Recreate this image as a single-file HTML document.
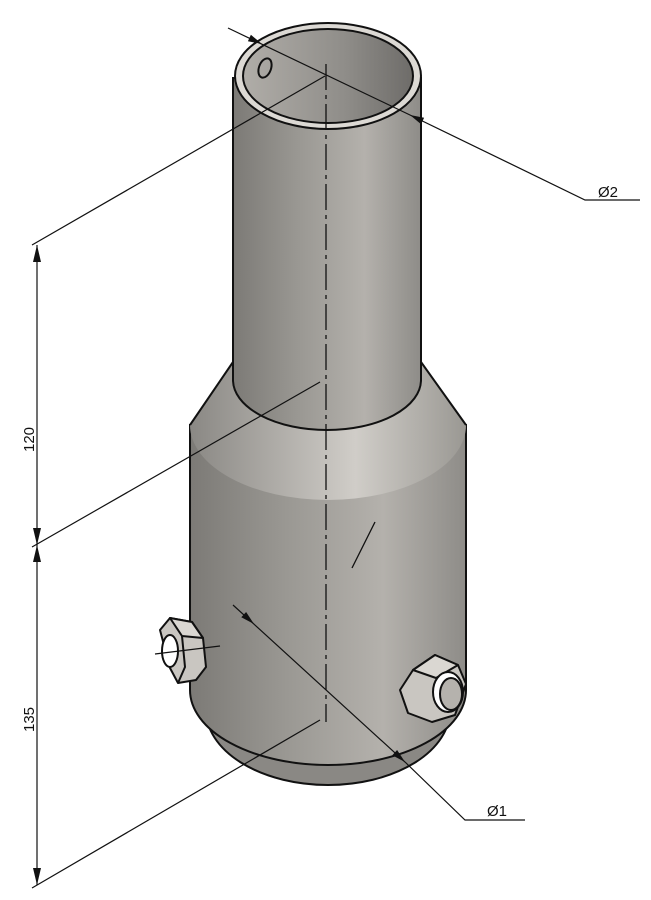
<!DOCTYPE html><html><head><style>body{margin:0;background:#fff}svg{display:block}</style></head><body>
<svg width="651" height="900" viewBox="0 0 651 900" xmlns="http://www.w3.org/2000/svg" font-family="Liberation Sans, sans-serif">
<defs>
<linearGradient id="g" x1="0" x2="1"><stop offset="0" stop-color="#7c7a76"/><stop offset="0.35" stop-color="#9a9893"/><stop offset="0.7" stop-color="#b4b1ac"/><stop offset="1" stop-color="#8e8c88"/></linearGradient>
<linearGradient id="gc" x1="0" x2="1"><stop offset="0" stop-color="#8a8884"/><stop offset="0.6" stop-color="#d0cdc8"/><stop offset="1" stop-color="#9a9893"/></linearGradient>
<linearGradient id="gi" x1="0" x2="1"><stop offset="0" stop-color="#b0ada8"/><stop offset="0.6" stop-color="#8f8d89"/><stop offset="1" stop-color="#6e6c69"/></linearGradient>
</defs>
<g stroke="#111" stroke-width="2">
<ellipse cx="328" cy="710" rx="122" ry="75" fill="#8a8884"/>
<path d="M190 425 L190 690 A138 75 0 0 0 466 690 L466 425Z" fill="url(#g)"/>
<path d="M190 425 A138 75 0 0 0 466 425 L421 362 L233 362 L190 425Z" fill="url(#gc)" stroke="none"/>
<path d="M190 425 L233 362 M466 425 L421 362" fill="none"/>
<path d="M233 78 L233 380 A94 50 0 0 0 421 380 L421 78Z" fill="url(#g)"/>
<ellipse cx="328" cy="76" rx="93" ry="53" fill="#dcd9d4"/>
<ellipse cx="328" cy="76" rx="85" ry="47" fill="url(#gi)"/>
</g>
<ellipse cx="265" cy="68" rx="6" ry="10" transform="rotate(20 265 68)" fill="none" stroke="#111" stroke-width="2"/>
<g stroke="#111" stroke-width="2" stroke-linejoin="round">
<path d="M160 630 L170 618 L192 622 L203 638 L206 667 L196 680 L178 683 L170 668Z" fill="#c9c6c1"/>
<path d="M170 618 L192 622 L203 638 L182 636Z" fill="#dad7d2"/>
<path d="M182 636 L185 667 L178 683" fill="none"/>
<ellipse cx="170" cy="651" rx="8" ry="16" fill="#fff"/>
<path d="M413 670 L435 655 L458 665 L466 684 L455 715 L432 722 L408 713 L400 690Z" fill="#c9c6c1"/>
<path d="M413 670 L435 655 L458 665 L436 678Z" fill="#dad7d2"/>
<ellipse cx="448" cy="692" rx="15" ry="20" fill="#fff"/>
<ellipse cx="451" cy="694" rx="11" ry="16" fill="#b5b2ad"/>
</g>
<line x1="326" y1="64" x2="326" y2="722" stroke="#111" stroke-width="1.3" stroke-dasharray="26 5 4 5"/>
<line x1="352" y1="568" x2="375" y2="522" stroke="#111" stroke-width="1.3"/>
<line x1="155" y1="654" x2="220" y2="646" stroke="#111" stroke-width="1.2"/>
<g stroke="#111" stroke-width="1.2" fill="none">
<line x1="37" y1="245" x2="37" y2="885"/>
<line x1="32" y1="245" x2="325" y2="76"/>
<line x1="32" y1="547" x2="320" y2="382"/>
<line x1="32" y1="888" x2="320" y2="720"/>
<polyline points="228,28 410,115 585,200 640,200"/>
<polyline points="233,605 405,762 465,820 525,820"/>
</g>
<g fill="#111">
<polygon points="37,245 33,262 41,262"/><polygon points="37,545 33,528 41,528"/><polygon points="37,545 33,562 41,562"/><polygon points="37,885 33,868 41,868"/>
<polygon points="262,44 247.9,41.2 250.9,34.8"/><polygon points="410,115 421.1,124.2 424.1,117.8"/>
<polygon points="254,624 241.3,617.2 246.1,612"/><polygon points="405,762 392.3,755.2 397.1,750"/>
</g>
<g font-size="15" fill="#111">
<text transform="translate(34 452) rotate(-90)">120</text>
<text transform="translate(34 732) rotate(-90)">135</text>
<text x="598" y="197">Ø2</text>
<text x="487" y="816">Ø1</text>
</g>
</svg></body></html>
